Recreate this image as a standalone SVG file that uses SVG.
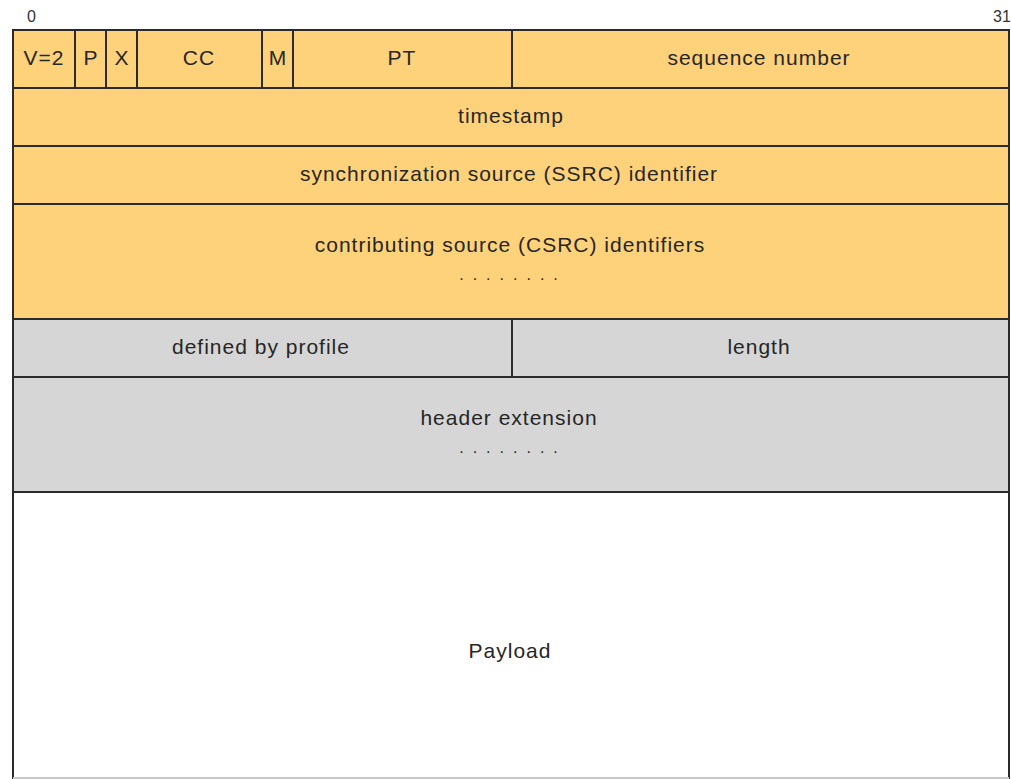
<svg xmlns="http://www.w3.org/2000/svg" width="1011" height="779" viewBox="0 0 1011 779">
  <style>
    .hdr { fill: #FED27B; stroke: #2b2b2b; stroke-width: 2; }
    .ext { fill: #D6D6D6; stroke: #2b2b2b; stroke-width: 2; }
    .pay { fill: #FFFFFF; stroke: #2b2b2b; stroke-width: 2; }
    .lbl { font-family: "Liberation Sans", Arial, sans-serif; font-size: 21px; letter-spacing: 1px; fill: #262626; text-anchor: middle; }
    .dots { font-family: "Liberation Sans", Arial, sans-serif; font-size: 16px; letter-spacing: 9px; fill: #262626; text-anchor: middle; }
    .bit { font-family: "Liberation Sans", Arial, sans-serif; font-size: 16px; fill: #333333; }
  </style>
  <rect width="1011" height="779" fill="#FFFFFF"/>

  <!-- bit ruler -->
  <g id="ruler">
    <text class="bit" x="27" y="22">0</text>
    <text class="bit" x="993" y="22">31</text>
  </g>

  <!-- fixed RTP header, first word -->
  <g id="v"><rect class="hdr" x="13" y="30" width="62" height="58"/><text class="lbl" x="44" y="65">V=2</text></g>
  <g id="p"><rect class="hdr" x="75" y="30" width="31" height="58"/><text class="lbl" x="91" y="65">P</text></g>
  <g id="x"><rect class="hdr" x="106" y="30" width="31" height="58"/><text class="lbl" x="122" y="65">X</text></g>
  <g id="cc"><rect class="hdr" x="137" y="30" width="125" height="58"/><text class="lbl" x="199" y="65">CC</text></g>
  <g id="m"><rect class="hdr" x="262" y="30" width="31" height="58"/><text class="lbl" x="278" y="65">M</text></g>
  <g id="pt"><rect class="hdr" x="293" y="30" width="219" height="58"/><text class="lbl" x="402" y="65">PT</text></g>
  <g id="seq"><rect class="hdr" x="512" y="30" width="497" height="58"/><text class="lbl" x="759" y="65">sequence number</text></g>

  <g id="timestamp"><rect class="hdr" x="13" y="88" width="996" height="58"/><text class="lbl" x="511" y="123">timestamp</text></g>
  <g id="ssrc"><rect class="hdr" x="13" y="146" width="996" height="58"/><text class="lbl" x="509" y="181">synchronization source (SSRC) identifier</text></g>
  <g id="csrc">
    <rect class="hdr" x="13" y="204" width="996" height="115"/>
    <text class="lbl" x="510" y="252">contributing source (CSRC) identifiers</text>
    <text class="dots" x="513" y="280">........</text>
  </g>

  <!-- header extension -->
  <g id="profile"><rect class="ext" x="13" y="319" width="499" height="58"/><text class="lbl" x="261" y="354">defined by profile</text></g>
  <g id="length"><rect class="ext" x="512" y="319" width="497" height="58"/><text class="lbl" x="759" y="354">length</text></g>
  <g id="extension">
    <rect class="ext" x="13" y="377" width="996" height="115"/>
    <text class="lbl" x="509" y="425">header extension</text>
    <text class="dots" x="513" y="453">........</text>
  </g>

  <!-- payload -->
  <g id="payload">
    <rect class="pay" x="13" y="492" width="996" height="286"/>
    <text class="lbl" x="510" y="658">Payload</text>
  </g>
  <line x1="13" y1="778" x2="1009" y2="778" stroke="#C8C8C8" stroke-width="2"/>
</svg>
